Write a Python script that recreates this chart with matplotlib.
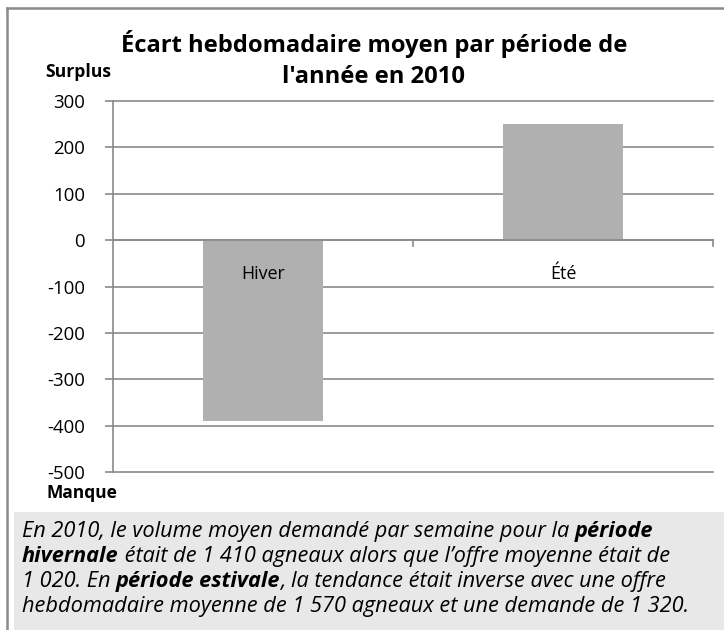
import matplotlib
matplotlib.use('Agg')
import matplotlib.pyplot as plt
from matplotlib.patches import Rectangle
from matplotlib.lines import Line2D

# données du graphique
periodes = ['Hiver', 'Été']
ecarts = [-390, 250]
yticks = [300, 200, 100, 0, -100, -200, -300, -400, -500]

titre = ["Écart hebdomadaire moyen par période de", "l'année en 2010"]
# note sous le graphique : (texte, gras)
note = [
    [("En 2010, le volume moyen demandé par semaine pour la ", False), ("période", True)],
    [("hivernale", True), (" était de 1 410 agneaux alors que l’offre moyenne était de", False)],
    [("1 020. En ", False), ("période estivale", True), (", la tendance était inverse avec une offre", False)],
    [("hebdomadaire moyenne de 1 570 agneaux et une demande de 1 320.", False)],
]

FONT = 'Open Sans'
W, H = 724, 630
GRIS = '#8a8a8a'
plt.rcParams['font.family'] = [FONT, 'DejaVu Sans']

fig = plt.figure(figsize=(W / 100, H / 100), dpi=100)
fig.patch.set_facecolor('white')
fig.canvas.draw()
r = fig.canvas.get_renderer()


def taille(txt, largeur, **kw):
    """taille de police (pt) pour qu'un texte fasse `largeur` pixels"""
    t = fig.text(0, 0, txt, fontsize=10, **kw)
    w = t.get_window_extent(r).width
    t.remove()
    return 10 * largeur / w


# cadre extérieur et encadré gris
fig.add_artist(Line2D([7 / W, 7 / W], [0, 1 - 8 / H], transform=fig.transFigure,
                      color=GRIS, lw=1.8))
fig.add_artist(Line2D([7 / W, 1], [1 - 8 / H, 1 - 8 / H], transform=fig.transFigure,
                      color=GRIS, lw=1.8))
fig.add_artist(Rectangle((14 / W, 0), 1 - 14 / W, 1 - 512 / H, transform=fig.transFigure,
                         facecolor='#e8e8e8', edgecolor='none'))

ax = fig.add_axes([113 / W, 1 - 472 / H, 600 / W, 371 / H])
x = list(range(len(periodes)))
ax.bar(x, ecarts, width=0.4, color='#b0b0b0', zorder=2)
ax.set_xlim(-0.5, len(periodes) - 0.5)
ax.set_ylim(-500, 300)
fs_tick = taille('-100', 38)
ax.set_yticks(yticks)
ax.set_yticklabels([str(v) for v in yticks], fontsize=fs_tick)
ax.tick_params(axis='y', length=6, color=GRIS, width=1.2, pad=14)
for v in yticks:
    ax.axhline(v, color=GRIS, lw=1.2, zorder=1, clip_on=False)
for s in ['top', 'right', 'bottom']:
    ax.spines[s].set_visible(False)
ax.spines['left'].set_color(GRIS)
ax.spines['left'].set_linewidth(1.2)
ax.set_xticks([])
ax.axhline(0, color=GRIS, lw=1.2, zorder=3)
# petites marques de séparation des catégories sous l'axe
for b in [k - 0.5 for k in range(len(periodes) + 1)][1:]:
    ax.plot([b, b], [0, -12], color=GRIS, lw=1.2, zorder=3, clip_on=False)
fs_cat = taille('Hiver', 44)
for xi, lab in zip(x, periodes):
    ax.annotate(lab, (xi, 0), xytext=(0, -34), textcoords='offset pixels',
                ha='center', va='center', fontsize=fs_cat, zorder=4)

fs_titre = taille(titre[0], 508, fontweight='bold')
fig.text(374 / W, 1 - 44 / H, titre[0], ha='center', va='center', fontsize=fs_titre,
         fontweight='bold')
fig.text(374 / W, 1 - 77 / H, titre[1], ha='center', va='center', fontsize=fs_titre,
         fontweight='bold')
fig.text(78 / W, 1 - 72 / H, 'Surplus', ha='center', va='center',
         fontsize=taille('Surplus', 66, fontweight='bold'), fontweight='bold')
fig.text(82 / W, 1 - 493 / H, 'Manque', ha='center', va='center',
         fontsize=taille('Manque', 71, fontweight='bold'), fontweight='bold')

# note avec parties en gras
fs_note = taille(note[3][0][0], 668, style='italic')
for i, ligne in enumerate(note):
    xp = 22
    yp = 531 + i * 25.3
    for txt, gras in ligne:
        t = fig.text(xp / W, 1 - yp / H, txt, ha='left', va='center', fontsize=fs_note,
                     style='italic', fontweight='bold' if gras else 'normal')
        xp += t.get_window_extent(r).width

fig.savefig('out.png', dpi=100)
